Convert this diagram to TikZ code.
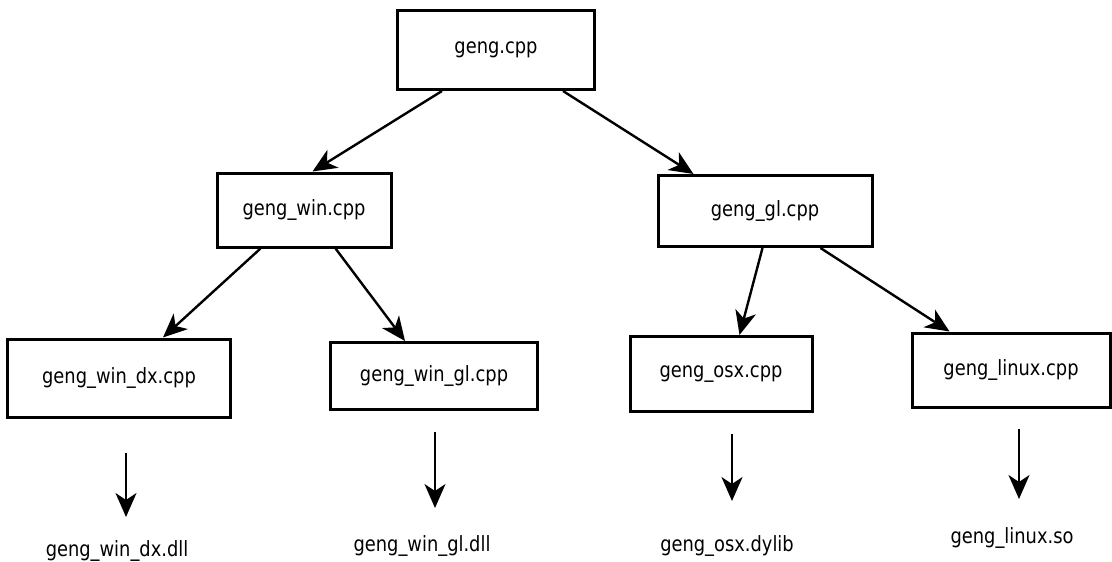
\documentclass[tikz,border=0pt]{standalone}
\usepackage{fontspec}
\setmainfont{DejaVu Sans}[FakeStretch=0.85]
\usetikzlibrary{arrows.meta,calc}
\begin{document}
\begin{tikzpicture}[x=1pt,y=-1pt,
  filebox/.style={draw=black,line width=3pt,rectangle,inner sep=0pt,font=\fontsize{21}{24}\selectfont},
  libtext/.style={inner sep=0pt,font=\fontsize{21}{24}\selectfont},
  conn/.style={line width=2.4pt,-{Stealth[length=24pt,width=21pt,inset=7pt]}}]
\useasboundingbox (0,0) rectangle (1112,562);
% boxes
\node[filebox,minimum width=197pt,minimum height=79pt] (top) at (496,50) {geng.cpp};
\node[filebox,minimum width=174pt,minimum height=74pt] (win) at (304,210) {geng\_win.cpp};
\node[filebox,minimum width=214pt,minimum height=71pt] (gl) at (765,211) {geng\_gl.cpp};
\node[filebox,minimum width=223pt,minimum height=78pt] (dx) at (119,378) {geng\_win\_dx.cpp};
\node[filebox,minimum width=207pt,minimum height=67pt] (wgl) at (434,376) {geng\_win\_gl.cpp};
\node[filebox,minimum width=182pt,minimum height=75pt] (osx) at (721,374) {geng\_osx.cpp};
\node[filebox,minimum width=198pt,minimum height=74pt] (linux) at (1011,370) {geng\_linux.cpp};
% connectors between boxes
\draw[conn] ($(top.south west)+(46,0)$) -- ($(win.north west)+(97,0)$);
\draw[conn] ($(top.south west)+(167,0)$) -- ($(gl.north west)+(37,0)$);
\draw[conn] ($(win.south west)+(45,0)$) -- ($(dx.north west)+(157,0)$);
\draw[conn] ($(win.south west)+(120,0)$) -- ($(wgl.north west)+(76,0)$);
\draw[conn] ($(gl.south west)+(106,0)$) -- ($(osx.north west)+(111,0)$);
\draw[conn] ($(gl.south west)+(164,0)$) -- ($(linux.north west)+(39,0)$);
% output libraries
\node[libtext] (dxl) at (117,551) {geng\_win\_dx.dll};
\node[libtext] (wgll) at (422,546) {geng\_win\_gl.dll};
\node[libtext] (osxl) at (727,546) {geng\_osx.dylib};
\node[libtext] (linuxl) at (1012,538) {geng\_linux.so};
\coordinate (dxa) at (126,453); \coordinate (dxb) at (126,517);
\coordinate (wgla) at (435,432); \coordinate (wglb) at (435,508);
\coordinate (osxa) at (732,434); \coordinate (osxb) at (732,501);
\coordinate (linuxa) at (1019,429); \coordinate (linuxb) at (1019,499);
\draw[conn] (dxa) -- (dxb);
\draw[conn] (wgla) -- (wglb);
\draw[conn] (osxa) -- (osxb);
\draw[conn] (linuxa) -- (linuxb);
\end{tikzpicture}
\end{document}
